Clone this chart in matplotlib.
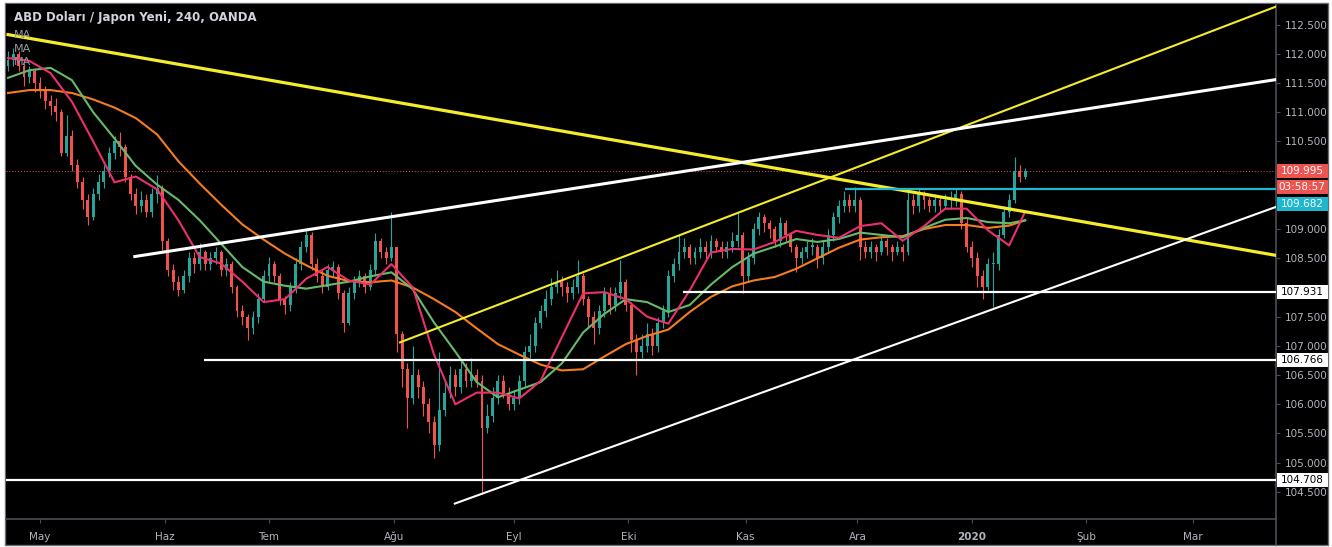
import numpy as np
import matplotlib
matplotlib.use('Agg')
import matplotlib.pyplot as plt
from matplotlib.patches import Rectangle
from matplotlib.lines import Line2D
from matplotlib.transforms import blended_transform_factory

# USD/JPY, one candle per trading day, 23 Apr 2019 -> 15 Jan 2020
first_open = 111.80
closes = [111.90, 112.00, 111.80, 111.60, 111.70, 111.50, 111.40, 111.20, 111.10, 111.00,
          110.30, 110.60, 110.10, 109.80, 109.50, 109.20, 109.60, 109.80, 110.00, 110.30,
          110.50, 110.40, 109.90, 109.60, 109.40, 109.50, 109.30, 109.60, 109.70, 108.80,
          108.30, 108.10, 107.95, 108.20, 108.50, 108.40, 108.60, 108.40, 108.50, 108.60,
          108.30, 108.40, 108.00, 107.60, 107.50, 107.30, 107.50, 107.80, 108.20, 108.40,
          108.20, 107.80, 107.70, 108.00, 108.40, 108.70, 108.90, 108.40, 108.20, 108.00,
          108.30, 108.35, 107.90, 107.40, 107.90, 108.10, 108.20, 108.00, 108.30, 108.80,
          108.60, 108.50, 108.70, 107.20, 106.60, 106.10, 106.50, 106.30, 106.00, 105.70,
          105.30, 105.90, 106.20, 106.50, 106.30, 106.60, 106.40, 106.50, 106.40, 105.60,
          105.80, 106.10, 106.40, 106.20, 106.00, 106.10, 106.40, 106.90, 107.00, 107.40,
          107.60, 107.80, 108.00, 108.10, 108.00, 107.90, 108.00, 108.20, 107.80, 107.50,
          107.30, 107.60, 107.90, 107.70, 107.90, 108.10, 107.70, 107.10, 106.90, 107.00,
          107.20, 107.00, 107.40, 107.60, 108.20, 108.40, 108.60, 108.70, 108.50, 108.60,
          108.70, 108.60, 108.80, 108.70, 108.60, 108.70, 108.80, 108.90, 108.20, 108.50,
          109.00, 109.20, 109.10, 109.00, 108.80, 109.10, 108.90, 108.70, 108.50, 108.60,
          108.70, 108.70, 108.50, 108.70, 108.90, 109.20, 109.40, 109.50, 109.40, 109.50,
          108.70, 108.60, 108.70, 108.60, 108.80, 108.70, 108.60, 108.70, 108.60, 109.50,
          109.40, 109.60, 109.50, 109.40, 109.50, 109.40, 109.50, 109.50, 109.60, 109.10,
          108.70, 108.50, 108.20, 108.00, 108.40, 108.40, 108.90, 109.30, 109.50, 110.00,
          109.90, 109.995]
highs = [112.05, 112.10, 112.05, 111.85, 111.80, 111.75, 111.60, 111.45, 111.30, 111.25,
         111.05, 110.95, 110.70, 110.20, 109.90, 109.60, 109.70, 109.95, 110.10, 110.40,
         110.60, 110.66, 110.45, 109.95, 109.70, 109.65, 109.60, 109.70, 109.92, 109.75,
         108.85, 108.40, 108.20, 108.30, 108.60, 108.60, 108.77, 108.65, 108.60, 108.70,
         108.65, 108.50, 108.45, 108.05, 107.70, 107.55, 107.60, 107.90, 108.30, 108.52,
         108.45, 108.25, 107.85, 108.10, 108.50, 108.80, 109.00, 108.95, 108.50, 108.30,
         108.40, 108.45, 108.40, 107.95, 108.00, 108.20, 108.30, 108.25, 108.40, 108.93,
         108.85, 108.70, 109.29, 108.70, 107.25, 106.70, 107.00, 106.60, 106.40, 106.10,
         105.80, 106.90, 106.40, 106.65, 106.60, 106.75, 106.70, 106.80, 106.60, 106.50,
         106.00, 106.30, 106.50, 106.50, 106.30, 106.25, 106.50, 107.00, 107.20, 107.50,
         107.70, 107.95, 108.17, 108.30, 108.20, 108.10, 108.15, 108.47, 108.25, 107.85,
         107.60, 107.70, 108.00, 108.00, 108.00, 108.47, 108.15, 107.75, 107.20, 107.20,
         107.40, 107.30, 107.50, 107.70, 108.30, 108.50, 108.90, 108.85, 108.75, 108.70,
         108.85, 108.80, 108.90, 108.85, 108.80, 108.80, 108.95, 109.27, 108.95, 108.60,
         109.10, 109.30, 109.25, 109.15, 109.05, 109.20, 109.15, 108.95, 108.75, 108.70,
         108.80, 108.85, 108.75, 108.80, 109.00, 109.30, 109.50, 109.65, 109.60, 109.72,
         109.55, 108.80, 108.80, 108.75, 108.90, 108.85, 108.75, 108.80, 108.75, 109.70,
         109.60, 109.70, 109.65, 109.55, 109.60, 109.55, 109.60, 109.65, 109.70, 109.65,
         109.20, 108.80, 108.60, 108.30, 108.50, 108.60, 109.00, 109.40, 109.60, 110.23,
         110.10, 110.05]
lows = [111.70, 111.80, 111.70, 111.45, 111.50, 111.35, 111.25, 111.05, 110.95, 110.85,
        110.25, 110.25, 110.00, 109.70, 109.35, 109.07, 109.15, 109.50, 109.70, 109.90,
        110.20, 110.25, 109.80, 109.50, 109.25, 109.30, 109.20, 109.20, 109.45, 108.65,
        108.20, 107.95, 107.86, 107.90, 108.10, 108.25, 108.30, 108.30, 108.30, 108.40,
        108.20, 108.20, 107.90, 107.50, 107.35, 107.10, 107.20, 107.40, 107.75, 108.10,
        108.10, 107.70, 107.55, 107.60, 107.90, 108.30, 108.60, 108.30, 108.10, 107.90,
        107.95, 108.20, 107.80, 107.23, 107.35, 107.80, 108.00, 107.90, 107.95, 108.20,
        108.50, 108.40, 108.45, 106.90, 106.30, 105.60, 106.00, 106.10, 105.80, 105.50,
        105.08, 105.20, 105.80, 106.10, 106.15, 106.20, 106.30, 106.30, 106.30, 104.46,
        105.50, 105.70, 106.00, 106.10, 105.90, 105.90, 106.00, 106.30, 106.80, 106.90,
        107.30, 107.50, 107.70, 107.90, 107.85, 107.75, 107.80, 107.90, 107.70, 107.30,
        107.04, 107.20, 107.50, 107.55, 107.60, 107.80, 107.60, 106.90, 106.50, 106.80,
        106.90, 106.85, 106.90, 107.30, 107.50, 108.10, 108.30, 108.50, 108.40, 108.40,
        108.50, 108.50, 108.50, 108.60, 108.50, 108.50, 108.60, 108.70, 107.90, 108.10,
        108.40, 108.90, 108.95, 108.85, 108.70, 108.70, 108.80, 108.60, 108.26, 108.40,
        108.50, 108.55, 108.33, 108.40, 108.60, 108.80, 109.10, 109.30, 109.30, 109.30,
        108.47, 108.50, 108.50, 108.45, 108.55, 108.55, 108.45, 108.55, 108.45, 108.55,
        109.25, 109.30, 109.35, 109.30, 109.30, 109.30, 109.35, 109.35, 109.40, 109.00,
        108.60, 108.35, 108.00, 107.81, 107.95, 107.66, 108.30, 108.85, 109.20, 109.45,
        109.80, 109.85]

# moving averages read every 4 trading days
ma_idx = list(range(0, 189, 4)) + [191]
ma_fast = [111.93, 111.88, 111.67, 111.18, 110.50, 109.80, 109.90, 109.68, 109.15, 108.52,
           108.41, 108.10, 107.75, 107.80, 108.15, 108.35, 108.12, 108.05, 108.40, 108.00,
           106.85, 106.00, 106.20, 106.20, 106.10, 106.40, 107.15, 107.90, 107.92, 107.80,
           107.50, 107.38, 107.95, 108.60, 108.66, 108.65, 108.78, 108.97, 108.90, 108.85,
           109.05, 109.10, 108.80, 109.05, 109.35, 109.35, 108.98, 108.72, 109.30]
ma_mid = [111.59, 111.72, 111.76, 111.55, 111.00, 110.55, 110.08, 109.76, 109.50, 109.15,
          108.75, 108.35, 108.10, 108.03, 107.98, 108.04, 108.10, 108.19, 108.26, 107.97,
          107.40, 106.90, 106.38, 106.12, 106.25, 106.38, 106.70, 107.23, 107.55, 107.80,
          107.75, 107.58, 107.70, 108.05, 108.35, 108.58, 108.70, 108.83, 108.78, 108.83,
          108.94, 108.90, 108.86, 109.02, 109.16, 109.19, 109.12, 109.10, 109.15]
ma_slow = [111.33, 111.38, 111.38, 111.33, 111.22, 111.08, 110.90, 110.62, 110.16, 109.78,
           109.42, 109.08, 108.82, 108.58, 108.38, 108.20, 108.11, 108.09, 108.12, 108.00,
           107.80, 107.58, 107.30, 107.03, 106.85, 106.68, 106.58, 106.60, 106.82, 107.03,
           107.17, 107.28, 107.58, 107.84, 108.02, 108.12, 108.18, 108.32, 108.50, 108.68,
           108.82, 108.86, 108.88, 109.00, 109.07, 109.07, 109.02, 109.06, 109.15]

month_pos = [6, 29.5, 49, 72.5, 95, 116.5, 138.5, 159.5, 181, 202.5, 222.5]
month_labels = ['May', 'Haz', 'Tem', 'Ağu', 'Eyl', 'Eki', 'Kas', 'Ara', '2020', 'Şub', 'Mar']

# drawings: start idx, start price, end idx, end price
yellow_down = [0, 112.33, 238.1, 108.55]
yellow_up = [73.6, 107.06, 238.1, 112.81]
white_up = [23.8, 108.53, 238.1, 111.56]
white_low = [83.9, 104.30, 238.1, 109.38]
levels = [107.931, 106.766, 104.708]
level_start = [126.7, 36.8, -1]
resistance = 109.682
resistance_start = 157.2
last_price = 109.995
timer = '03:58:57'

BG = '#000000'
AXC = '#b2b5be'
LINEC = '#4a4d56'
UP = '#26a69a'
DOWN = '#ef5350'

W, H = 1332, 547
fig = plt.figure(figsize=(W / 100, H / 100), dpi=100, facecolor='white')
fig.patches.append(Rectangle((5 / W, 2 / H), 1323 / W, 542 / H, transform=fig.transFigure,
                             facecolor=BG, edgecolor='#6a6d78', lw=1, zorder=-5))
ax = fig.add_axes([6 / W, (H - 519) / H, (1276 - 6) / W, (519 - 4) / H])
ax.set_zorder(2)
ax.set_facecolor(BG)

c = np.array(closes)
o = np.r_[first_open, c[:-1]]
hi = np.maximum(np.array(highs), np.maximum(o, c))
lo = np.minimum(np.array(lows), np.minimum(o, c))
x = np.arange(len(c))
cols = np.where(c >= o, UP, DOWN)
ax.vlines(x, lo, hi, colors=cols, lw=0.8, zorder=2)
ax.bar(x, np.maximum(np.abs(c - o), 0.02), bottom=np.minimum(o, c), width=0.55,
       color=cols, zorder=2)

ax.plot(ma_idx, ma_slow, color='#f57c1f', lw=1.5, zorder=3)
ax.plot(ma_idx, ma_mid, color='#66bb6a', lw=1.5, zorder=3)
ax.plot(ma_idx, ma_fast, color='#ec2f6f', lw=1.5, zorder=3)

ax.plot(yellow_down[::2], yellow_down[1::2], color='#f5ec2a', lw=2.3, zorder=4)
ax.plot(yellow_up[::2], yellow_up[1::2], color='#f5ec2a', lw=1.5, zorder=4)
ax.plot(white_up[::2], white_up[1::2], color='white', lw=2.2, zorder=4)
ax.plot(white_low[::2], white_low[1::2], color='white', lw=1.5, zorder=4)
for lv, st in zip(levels, level_start):
    ax.hlines(lv, st, 238.1, color='white', lw=1.6, zorder=4)
ax.hlines(resistance, resistance_start, 238.1, color='#1fb6cf', lw=1.6, zorder=4)
ax.axhline(last_price, color=DOWN, lw=0.7, ls=(0, (1, 2)), zorder=1)

ax.set_xlim(-0.38, 238.1)
ax.set_ylim(104.036, 112.854)
ax.set_xticks(month_pos)
ax.set_xticklabels(month_labels)
for t in ax.get_xticklabels():
    if t.get_text() == '2020':
        t.set_fontweight('bold')
ticks = np.arange(104.5, 112.51, 0.5)
# labels hidden behind the price boxes on the scale
covered = [108.0, 109.5, 110.0]
ax.set_yticks(ticks)
ax.set_yticklabels(['' if round(t, 1) in covered else '{:.3f}'.format(t) for t in ticks])
ax.yaxis.tick_right()
ax.tick_params(axis='y', length=3, color=LINEC, labelcolor=AXC, labelsize=7.5, pad=3)
ax.tick_params(axis='x', length=3, color=LINEC, labelcolor=AXC, labelsize=7.5, pad=6)
for s in ['top', 'left']:
    ax.spines[s].set_visible(False)
for s in ['bottom', 'right']:
    ax.spines[s].set_color(LINEC)
    ax.spines[s].set_linewidth(1.2)
fig.lines.append(Line2D([1276 / W, 1276 / W], [2 / H, (H - 519) / H], transform=fig.transFigure,
                        color=LINEC, lw=1.2))

# price labels on the right scale
tr = blended_transform_factory(ax.transAxes, ax.transData)
px = (112.854 - 104.036) / 515.0
box_w = 51 / 1270


def price_box(y, text, face, tc):
    ax.add_patch(Rectangle((1.0005, y - 7 * px), box_w, 14 * px, transform=tr, clip_on=False,
                           facecolor=face, edgecolor='none', zorder=10))
    ax.text(1.0005 + box_w / 2, y, text, transform=tr, ha='center', va='center',
            fontsize=7.5, color=tc, zorder=11, clip_on=False)


# the scale stacks the three top labels so they do not overlap
price_box(last_price, '{:.3f}'.format(last_price), '#ef5350', 'white')
price_box(last_price - 16 * px, timer, '#ef5350', 'white')
price_box(last_price - 33 * px, '{:.3f}'.format(resistance), '#1fb6cf', 'white')
for lv in levels:
    price_box(lv, '{:.3f}'.format(lv), 'white', 'black')

fig.text(14 / W, 1 - 18 / H, 'ABD Doları / Japon Yeni, 240, OANDA', color='#d1d4dc',
         fontsize=8.5, fontweight='semibold', va='center', zorder=5)
for yy in [35, 49, 62]:
    fig.text(14 / W, 1 - yy / H, 'MA', color='#9598a1', fontsize=8, va='center', zorder=5)

fig.savefig('out.png', dpi=100, facecolor='white')
